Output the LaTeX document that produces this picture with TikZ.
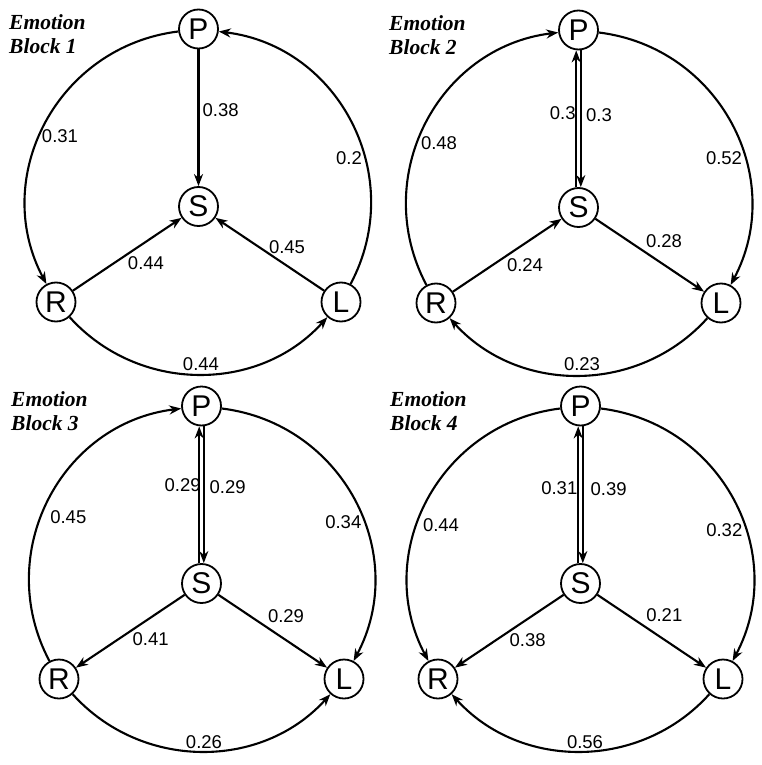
\documentclass[tikz,border=0pt]{standalone}
\usepackage{fontspec}
\setmainfont{Liberation Serif}
\setsansfont{Liberation Sans}
\usetikzlibrary{arrows.meta}
\tikzset{
  st/.style={circle, draw, line width=1.8pt, minimum size=39pt, inner sep=0pt, fill=white,
    font=\sffamily\fontsize{30}{30}\selectfont},
  edge/.style={line width=2.1pt, -{Stealth[length=12pt,width=9pt,inset=3.8pt]}},
  lbl/.style={inner sep=0pt, font=\sffamily\fontsize{18.5}{20}\selectfont},
  ttl/.style={inner sep=0pt, anchor=north west, align=left,
    font=\rmfamily\bfseries\itshape\fontsize{21.5}{24}\selectfont},
  lft/.style={out=187,in=118,looseness=1.09},
  lftr/.style={out=118,in=187,looseness=1.09},
  bot/.style={out=312,in=228,looseness=1.02},
  botr/.style={out=228,in=312,looseness=1.02},
  rgt/.style={out=62,in=353,looseness=1.09},
  rgtr/.style={out=353,in=62,looseness=1.09},
}
\begin{document}
\begin{tikzpicture}[x=1pt,y=1pt]
\useasboundingbox (0,0) rectangle (762,-765);
% ---------------- Panel 1
\begin{scope}
\node[ttl] (T1) at (9,-14.5) {Emotion\\Block 1};
\node[st] (P1) at (198.5,-29) {P};
\node[st] (S1) at (198.5,-206.5) {S};
\node[st] (R1) at (56,-302) {R};
\node[st] (L1) at (341,-302) {L};
\draw[edge] (P1) to[lft] (R1);
\draw[edge] (R1) to[bot] (L1);
\draw[edge] (L1) to[rgt] (P1);
\draw[edge] (P1) -- (S1);
\draw[edge] (R1) -- (S1);
\draw[edge] (L1) -- (S1);
\node[lbl] (a1) at (60,-136) {0.31};
\node[lbl] (b1) at (201,-364) {0.44};
\node[lbl] (c1) at (349,-158) {0.2};
\node[lbl] (d1) at (220.7,-110) {0.38};
\node[lbl] (e1) at (146,-263) {0.44};
\node[lbl] (f1) at (287,-247) {0.45};
\end{scope}
% ---------------- Panel 2
\begin{scope}[shift={(380,-1)}]
\node[ttl] (T2) at (9,-14.5) {Emotion\\Block 2};
\node[st] (P2) at (198.5,-29) {P};
\node[st] (S2) at (198.5,-206.5) {S};
\node[st] (R2) at (56,-302) {R};
\node[st] (L2) at (341,-302) {L};
\draw[edge] (R2) to[lftr] (P2);
\draw[edge] (P2) to[rgtr] (L2);
\draw[edge] (L2) to[botr] (R2);
\draw[edge] ([xshift=-2.3pt]S2.north) -- ([xshift=-2.3pt]P2.south);
\draw[edge] ([xshift=2.3pt]P2.south) -- ([xshift=2.3pt]S2.north);
\draw[edge] (R2) -- (S2);
\draw[edge] (S2) -- (L2);
\node[lbl] (a2) at (59,-142) {0.48};
\node[lbl] (b2) at (344,-157) {0.52};
\node[lbl] (c2) at (202,-363) {0.23};
\node[lbl] (d2) at (182.7,-112) {0.3};
\node[lbl] (e2) at (219,-114) {0.3};
\node[lbl] (f2) at (145,-264) {0.24};
\node[lbl] (g2) at (284,-240) {0.28};
\end{scope}
% ---------------- Panel 3
\begin{scope}[shift={(3,-377)}]
\node[ttl] (T3) at (8,-14.5) {Emotion\\Block 3};
\node[st] (P3) at (198.5,-29) {P};
\node[st] (S3) at (198.5,-206.5) {S};
\node[st] (R3) at (56,-302) {R};
\node[st] (L3) at (341,-302) {L};
\draw[edge] (R3) to[lftr] (P3);
\draw[edge] (P3) to[rgtr] (L3);
\draw[edge] (R3) to[bot] (L3);
\draw[edge] ([xshift=-2.3pt]S3.north) -- ([xshift=-2.3pt]P3.south);
\draw[edge] ([xshift=2.3pt]P3.south) -- ([xshift=2.3pt]S3.north);
\draw[edge] (S3) -- (R3);
\draw[edge] (S3) -- (L3);
\node[lbl] (a3) at (65.3,-140.3) {0.45};
\node[lbl] (b3) at (340.3,-145.3) {0.34};
\node[lbl] (c3) at (201,-365.3) {0.26};
\node[lbl] (d3) at (179.7,-107.7) {0.29};
\node[lbl] (e3) at (224.7,-110) {0.29};
\node[lbl] (f3) at (147.7,-262) {0.41};
\node[lbl] (g3) at (283,-239.3) {0.29};
\end{scope}
% ---------------- Panel 4
\begin{scope}[shift={(382,-377)}]
\node[ttl] (T4) at (8,-14.5) {Emotion\\Block 4};
\node[st] (P4) at (198.5,-29) {P};
\node[st] (S4) at (198.5,-206.5) {S};
\node[st] (R4) at (56,-302) {R};
\node[st] (L4) at (341,-302) {L};
\draw[edge] (P4) to[lft] (R4);
\draw[edge] (P4) to[rgtr] (L4);
\draw[edge] (L4) to[botr] (R4);
\draw[edge] ([xshift=-2.3pt]S4.north) -- ([xshift=-2.3pt]P4.south);
\draw[edge] ([xshift=2.3pt]P4.south) -- ([xshift=2.3pt]S4.north);
\draw[edge] (S4) -- (R4);
\draw[edge] (S4) -- (L4);
\node[lbl] (a4) at (59,-147.7) {0.44};
\node[lbl] (b4) at (342.3,-152.7) {0.32};
\node[lbl] (c4) at (203,-365.3) {0.56};
\node[lbl] (d4) at (177.3,-111) {0.31};
\node[lbl] (e4) at (226.7,-112) {0.39};
\node[lbl] (f4) at (145.7,-262.7) {0.38};
\node[lbl] (g4) at (282.3,-238.3) {0.21};
\end{scope}
\end{tikzpicture}
\end{document}
